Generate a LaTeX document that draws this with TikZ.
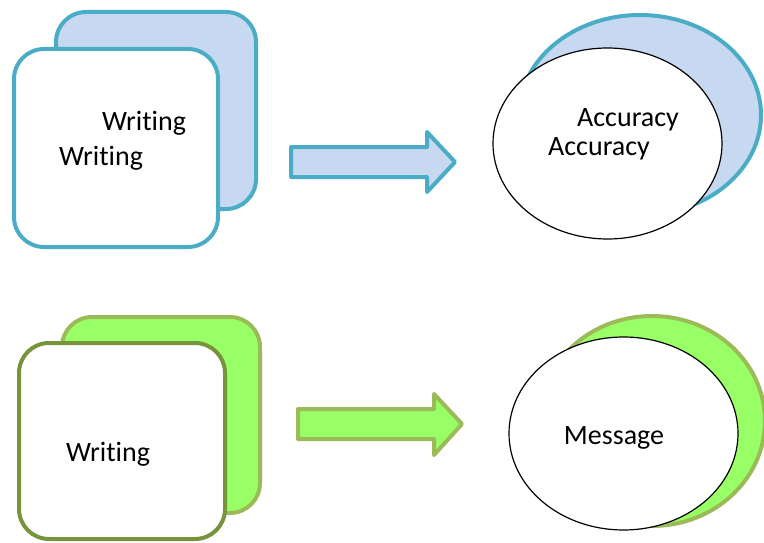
\documentclass[tikz,border=0pt]{standalone}
\usepackage{fontspec}
\setmainfont{Carlito}[Ligatures=NoCommon]
\usetikzlibrary{shapes.geometric}
\definecolor{teal}{HTML}{4BACC6}
\definecolor{paleblue}{HTML}{C6D9F1}
\definecolor{olive}{HTML}{9BBB59}
\definecolor{darkolive}{HTML}{77933C}
\definecolor{lime}{HTML}{99FF66}
\tikzset{
  card/.style={rectangle, rounded corners=30pt, inner sep=0pt, line width=4pt},
  oval/.style={ellipse, inner sep=0pt},
  label text/.style={font=\fontsize{28}{32}\selectfont, inner sep=0pt, text=black},
  blockarrow/.style={line width=4pt, line join=round},
}
\begin{document}
\begin{tikzpicture}[x=1pt,y=-1pt]
\useasboundingbox (0,0) rectangle (764,543);
% upper row
\node[card, draw=teal, fill=paleblue, minimum width=200pt, minimum height=197pt] (backA) at (156,110.5) {};
\node[card, draw=teal, fill=white, minimum width=204pt, minimum height=198pt] (frontA) at (116,148) {};
\node[label text] (wA1) at (144,123) {Writing};
\node[label text] (wA2) at (101,158) {Writing};
\draw[blockarrow, draw=teal, fill=paleblue]
  (291,147) -- (427,147) -- (427,132) -- (455,162) -- (427,192) -- (427,177) -- (291,177) -- cycle;
\node[oval, draw=teal, line width=4pt, fill=paleblue, minimum width=242pt, minimum height=200pt] (backB) at (640,115) {};
\node[oval, draw=black, line width=1.2pt, fill=white, minimum width=229pt, minimum height=191pt] (frontB) at (607.5,143.5) {};
\node[label text] (aB1) at (628,120) {Accuracy};
\node[label text] (aB2) at (599,149) {Accuracy};
% lower row
\node[card, draw=olive, fill=lime, minimum width=198pt, minimum height=196pt] (backC) at (161,415) {};
\node[card, draw=darkolive, fill=white, minimum width=206pt, minimum height=196pt] (frontC) at (122,441) {};
\node[label text] (wC) at (108,454) {Writing};
\draw[blockarrow, draw=olive, fill=lime]
  (298,409) -- (434,409) -- (434,394) -- (462,424) -- (434,455) -- (434,439) -- (298,439) -- cycle;
\node[oval, draw=olive, line width=4pt, fill=lime, minimum width=226pt, minimum height=210pt] (backD) at (652,421) {};
\node[oval, draw=black, line width=1.2pt, fill=white, minimum width=229pt, minimum height=193pt] (frontD) at (623.5,433.5) {};
\node[label text] (mD) at (614,438) {Message};
\end{tikzpicture}
\end{document}
